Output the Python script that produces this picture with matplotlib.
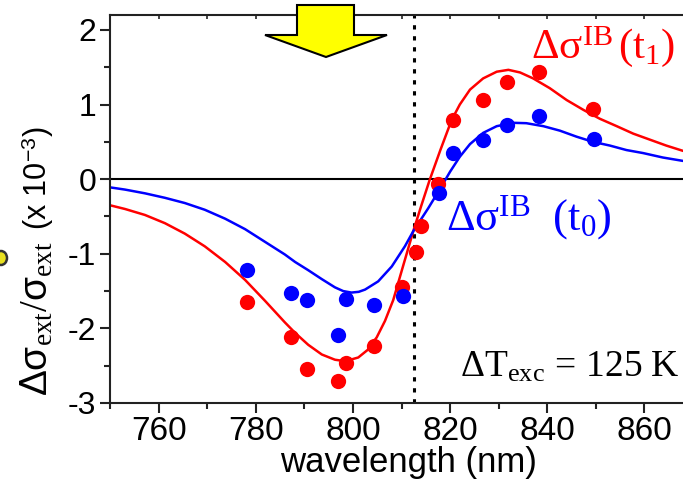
import matplotlib
matplotlib.use("Agg")
import matplotlib.pyplot as plt
from matplotlib.patches import Polygon, Ellipse
from matplotlib.ticker import MultipleLocator

plt.rcParams["font.family"] = ["Liberation Sans", "DejaVu Sans"]
plt.rcParams["mathtext.fontset"] = "custom"
plt.rcParams["mathtext.rm"] = "Liberation Serif"
plt.rcParams["mathtext.it"] = "Liberation Serif:italic"
plt.rcParams["mathtext.sf"] = "Liberation Sans"

# measured differential extinction (points) at time t1 (red) and t0 (blue)
red_wl = [778.3, 787.2, 790.6, 797.0, 798.6, 804.3, 810.1, 813.0, 814.0,
          817.6, 820.6, 826.8, 831.7, 838.3, 849.4]
red_val = [-1.65, -2.12, -2.54, -2.71, -2.46, -2.23, -1.44, -0.97, -0.63,
           -0.06, 0.79, 1.06, 1.30, 1.44, 0.94]
blue_wl = [778.2, 787.3, 790.6, 797.0, 798.6, 804.3, 810.3,
           817.7, 820.6, 826.8, 831.7, 838.3, 849.6]
blue_val = [-1.22, -1.52, -1.62, -2.09, -1.61, -1.68, -1.57,
            -0.18, 0.35, 0.52, 0.73, 0.84, 0.54]

# model curves (interband contribution)
red_fit_wl = [750.0, 753.1, 757.2, 761.3, 765.4, 769.5, 773.7, 777.8, 781.9,
              786.0, 788.1, 790.8, 793.6, 796.3, 798.4, 801.1, 803.0, 804.9,
              806.6, 808.3, 810.3, 812.5, 814.1, 815.8, 818.0, 820.3, 822.0,
              824.1, 826.8, 829.6, 832.0, 834.4, 837.1, 840.5, 844.0, 847.4,
              850.8, 854.3, 857.7, 861.1, 864.5, 867.9, 870.0]
red_fit_val = [-0.35, -0.40, -0.48, -0.59, -0.73, -0.90, -1.11, -1.35, -1.63,
               -1.92, -2.06, -2.22, -2.35, -2.42, -2.44, -2.39, -2.29, -2.12,
               -1.90, -1.62, -1.17, -0.68, -0.35, -0.01, 0.39, 0.79, 1.00,
               1.20, 1.35, 1.44, 1.465, 1.43, 1.35, 1.22, 1.06, 0.93,
               0.81, 0.71, 0.61, 0.53, 0.45, 0.38, 0.35]
blue_fit_wl = [750.0, 753.1, 757.2, 761.3, 765.4, 769.5, 773.7, 777.8, 781.9,
               786.0, 788.1, 790.8, 793.6, 796.3, 798.0, 799.7, 801.2, 802.5,
               805.2, 808.0, 810.7, 812.4, 815.5, 818.3, 820.0, 822.0, 824.1,
               826.8, 829.6, 833.0, 835.7, 839.2, 842.6, 846.0, 849.4, 852.9,
               856.3, 859.7, 863.8, 867.9, 870.0]
blue_fit_val = [-0.11, -0.14, -0.19, -0.25, -0.32, -0.41, -0.53, -0.67, -0.84,
                -1.01, -1.11, -1.22, -1.34, -1.45, -1.50, -1.52, -1.51, -1.48,
                -1.37, -1.17, -0.90, -0.70, -0.39, -0.09, 0.10, 0.30, 0.47,
                0.62, 0.71, 0.755, 0.75, 0.71, 0.65, 0.57, 0.50, 0.45,
                0.39, 0.35, 0.29, 0.245, 0.23]

plasmon_wl = 812.6

W, H = 683, 479
fig = plt.figure(figsize=(W / 100, H / 100), dpi=100)
ax = fig.add_axes([110 / W, 1 - 403 / H, (693 - 110) / W, (403 - 15) / H])

ax.axhline(0, color="black", lw=1.5, zorder=1)
ax.axvline(plasmon_wl, color="black", lw=2.2, ls=(0, (1.4, 2.2)), zorder=1)

ax.plot(red_fit_wl, red_fit_val, color="#ff0000", lw=1.8, zorder=2)
ax.plot(blue_fit_wl, blue_fit_val, color="#0000ff", lw=1.8, zorder=2)
ax.plot(red_wl, red_val, "o", color="#ff0000", ms=11, mew=0, zorder=3)
ax.plot(blue_wl, blue_val, "o", color="#0000ff", ms=11, mew=0, zorder=3)

ax.set_xlim(750, 870)
ax.set_ylim(-3, 2.2)
ax.xaxis.set_major_locator(MultipleLocator(20))
ax.xaxis.set_minor_locator(MultipleLocator(10))
ax.yaxis.set_minor_locator(MultipleLocator(0.5))
ax.set_yticks([-3, -2, -1, 0, 1, 2])
ax.set_yticklabels(["-3", "-2", "-1", "0", "1", "2"])

for side in ["left", "bottom", "top", "right"]:
    ax.spines[side].set_linewidth(1.5)
    ax.spines[side].set_color("#222222")
ax.tick_params(which="both", direction="out", top=False, right=False,
               color="#222222", width=1.5)
ax.tick_params(axis="x", labelsize=24, pad=2)
ax.tick_params(axis="y", labelsize=23, pad=3)
ax.tick_params(which="major", length=7)
ax.tick_params(which="minor", length=4)

# small inward ticks along the top edge
secx = ax.secondary_xaxis("top")
secx.xaxis.set_major_locator(MultipleLocator(20))
secx.xaxis.set_minor_locator(MultipleLocator(10))
secx.tick_params(which="both", direction="in", length=3, width=1.2,
                 labeltop=False, color="#222222")
secx.spines["top"].set_visible(False)

# axis titles
fig.text(408 / W, 1 - 472 / H, "wavelength (nm)", fontsize=25,
         ha="center", va="baseline")
fig.text(47 / W, 1 - 396 / H,
         r"$\mathsf{\Delta\sigma}_{\mathrm{ext}}/\mathsf{\sigma}_{\mathrm{ext}}$",
         rotation=90, rotation_mode="anchor", ha="left", va="baseline",
         fontsize=28)
fig.text(47 / W, 1 - 230 / H, r"(x 10$^{\mathsf{-3}}$)",
         rotation=90, rotation_mode="anchor", ha="left", va="baseline",
         fontsize=22)

ax.text(836.6, 1.63, r"$\Delta\mathrm{\sigma}^{\mathrm{IB}}\,(\mathrm{t}_{1})$",
        color="#ff0000", fontsize=31, ha="left", va="baseline", clip_on=False)
ax.text(819.2, -0.68, r"$\Delta\mathrm{\sigma}^{\mathrm{IB}}\ \ (\mathrm{t}_{0})$",
        color="#0000ff", fontsize=32, ha="left", va="baseline")
ax.text(822.0, -2.65, r"$\Delta\mathrm{T}_{\mathrm{exc}}\,=\,\mathrm{125\ K}$",
        color="black", fontsize=27, ha="left", va="baseline")

# pump arrow above the plot
arrow_px = [(297, 5), (354, 5), (354, 35), (387, 35), (326, 57), (265, 35), (297, 35)]
arrow = Polygon([(x / W, 1 - y / H) for x, y in arrow_px], closed=True,
                transform=fig.transFigure, facecolor="#ffff00",
                edgecolor="black", lw=1.5, zorder=10)
fig.patches.append(arrow)

# small marker partly visible at the left margin
dot = Ellipse((1 / W, 1 - 258 / H), 12 / W, 14 / H, transform=fig.transFigure,
              facecolor="#e8e020", edgecolor="#333333", lw=1.8, zorder=10)
fig.patches.append(dot)

fig.savefig("out.png", dpi=100)
